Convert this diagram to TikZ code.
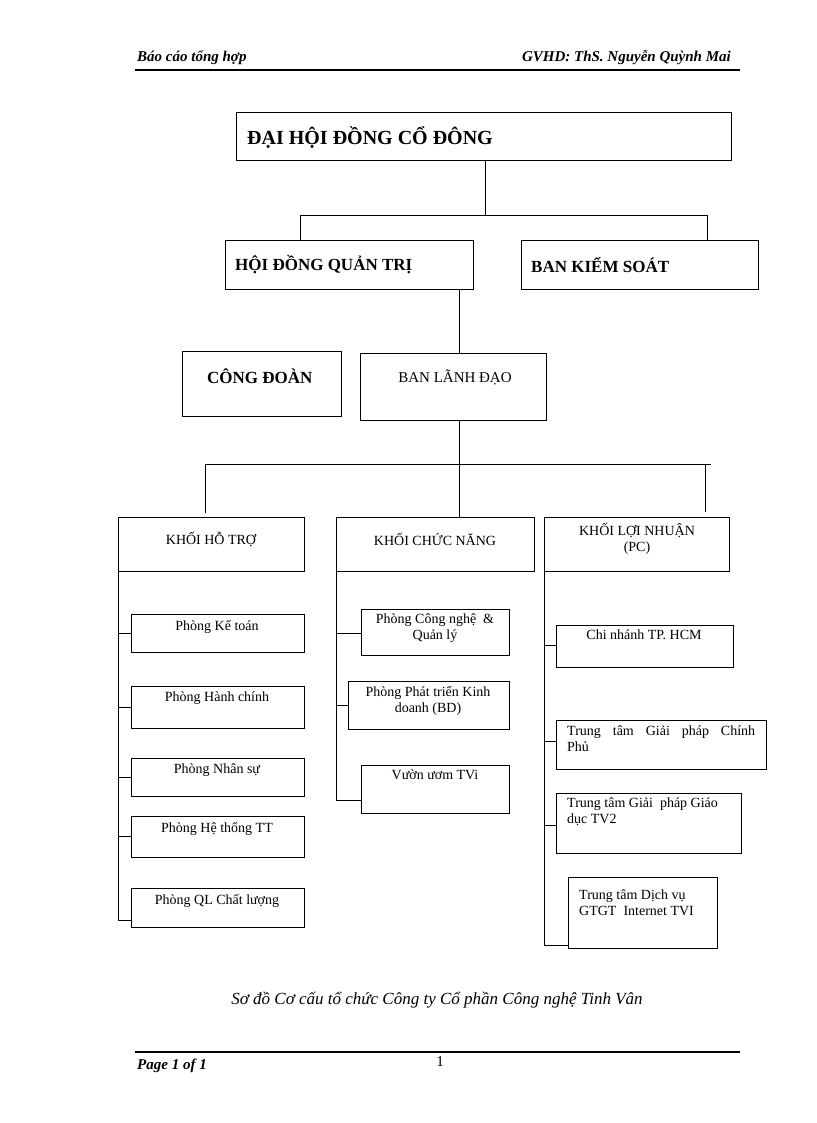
\documentclass[tikz,border=0pt]{standalone}
\usepackage{fontspec}
\setmainfont{Liberation Serif}
\begin{document}
\begin{tikzpicture}[x=1pt,y=-1pt,
  bx/.style={draw,line width=0.8pt},
  ln/.style={draw,line width=0.8pt},
  t/.style={inner sep=0pt,font=\fontsize{14}{16}\selectfont},
  tb/.style={inner sep=0pt,font=\fontsize{17}{19}\selectfont\bfseries}]
\useasboundingbox (0,0) rectangle (816,1123);
% header
\node[anchor=west,inner sep=0pt,font=\fontsize{15}{17}\selectfont\bfseries\itshape] (h1) at (137,58) {Báo cáo tổng hợp};
\node[anchor=east,inner sep=0pt,font=\fontsize{15}{17}\selectfont\bfseries\itshape] (h2) at (731,58) {GVHD:\ ThS.\ Nguyễn Quỳnh Mai};
\draw[line width=1.2pt] (135,70) -- (740,70);
% boxes
\draw[bx] (236,112) rectangle (731,160); \node[anchor=west,inner sep=0pt,font=\fontsize{20}{22}\selectfont\bfseries] (dh) at (247,138) {ĐẠI HỘI ĐỒNG CỔ ĐÔNG};
\draw[bx] (225,240) rectangle (473,289); \node[tb,anchor=west] (hd) at (235,265) {HỘI ĐỒNG QUẢN TRỊ};
\draw[bx] (521,240) rectangle (758,289); \node[tb,anchor=west] (bk) at (531,265) {BAN KIỂM SOÁT};
\draw[bx] (182,351) rectangle (341,416); \node[tb,anchor=west] (cd) at (207,376) {CÔNG ĐOÀN};
\draw[bx] (360,353) rectangle (546,420); \node[t,font=\fontsize{15}{17}\selectfont] (bl) at (455,377) {BAN LÃNH ĐẠO};
\draw[bx] (118,517) rectangle (304,571); \node[t] (k1) at (211,539) {KHỐI HỖ TRỢ};
\draw[bx] (336,517) rectangle (534,571); \node[t] (k2) at (435,539) {KHỐI CHỨC NĂNG};
\draw[bx] (544,517) rectangle (729,571); \node[t,align=center] (k3) at (637,539) {KHỐI LỢI NHUẬN\\(PC)};
% connectors top
\draw[ln] (485,160) -- (485,215);
\draw[ln] (300,215) -- (707,215);
\draw[ln] (300,215) -- (300,240);
\draw[ln] (707,215) -- (707,240);
\draw[ln] (459,289) -- (459,353);
\draw[ln] (459,420) -- (459,517);
\draw[ln] (205,464) -- (711,464);
\draw[ln] (205,464) -- (205,513);
\draw[ln] (705,464) -- (705,512);
% left column
\draw[ln] (118,571) -- (118,920);
\foreach \a/\b/\m/\txt/\n in {614/652/633/Phòng Kế toán/l1,686/728/707/Phòng Hành chính/l2,758/796/777/Phòng Nhân sự/l3,816/857/836/Phòng Hệ thống TT/l4,888/927/920/Phòng QL Chất lượng/l5}{
  \draw[bx] (131,\a) rectangle (304,\b);
  \node[t,anchor=north] (\n) at (217,\a+6) {\txt};
  \draw[ln] (118,\m) -- (131,\m);
}
% middle column
\draw[ln] (336,571) -- (336,800);
\draw[bx] (361,609) rectangle (509,655); \node[t,align=center,anchor=north] (m1) at (435,614) {Phòng Công nghệ \ \&\\Quản lý}; \draw[ln] (336,633) -- (361,633);
\draw[bx] (348,681) rectangle (509,729); \node[t,align=center,anchor=north] (m2) at (428,686) {Phòng Phát triển Kinh\\doanh (BD)}; \draw[ln] (336,705) -- (348,705);
\draw[bx] (361,765) rectangle (509,813); \node[t,anchor=north] (m3) at (435,770) {Vườn ươm TVi}; \draw[ln] (336,800) -- (361,800);
% right column
\draw[ln] (544,571) -- (544,945);
\draw[bx] (556,625) rectangle (733,667); \node[t,anchor=north] (r1) at (644,630) {Chi nhánh TP. HCM}; \draw[ln] (544,645) -- (556,645);
\draw[bx] (556,720) rectangle (766,769); \node[t,align=justify,text width=188pt,anchor=north west] (r2) at (567,726) {Trung\hfill tâm\hfill Giải\hfill pháp\hfill Chính\\Phủ}; \draw[ln] (544,741) -- (556,741);
\draw[bx] (556,793) rectangle (741,853); \node[t,align=left,anchor=north west] (r3) at (567,798) {Trung tâm Giải \ pháp Giáo\\dục TV2}; \draw[ln] (544,825) -- (556,825);
\draw[bx] (568,877) rectangle (717,948); \node[t,align=left,anchor=north west] (r4) at (579,890) {Trung tâm Dịch vụ\\GTGT \ Internet TVI}; \draw[ln] (544,945) -- (568,945);
% caption & footer
\node[inner sep=0pt,font=\fontsize{17}{19}\selectfont\itshape] (cap) at (437,1000) {Sơ đồ Cơ cấu tổ chức Công ty Cổ phần Công nghệ Tinh Vân};
\draw[line width=1.2pt] (135,1052) -- (740,1052);
\node[anchor=west,inner sep=0pt,font=\fontsize{15}{17}\selectfont\bfseries\itshape] (pg) at (137,1066) {Page 1 of 1};
\node[inner sep=0pt,font=\fontsize{15}{17}\selectfont] (num) at (440,1062) {1};
\end{tikzpicture}
\end{document}
